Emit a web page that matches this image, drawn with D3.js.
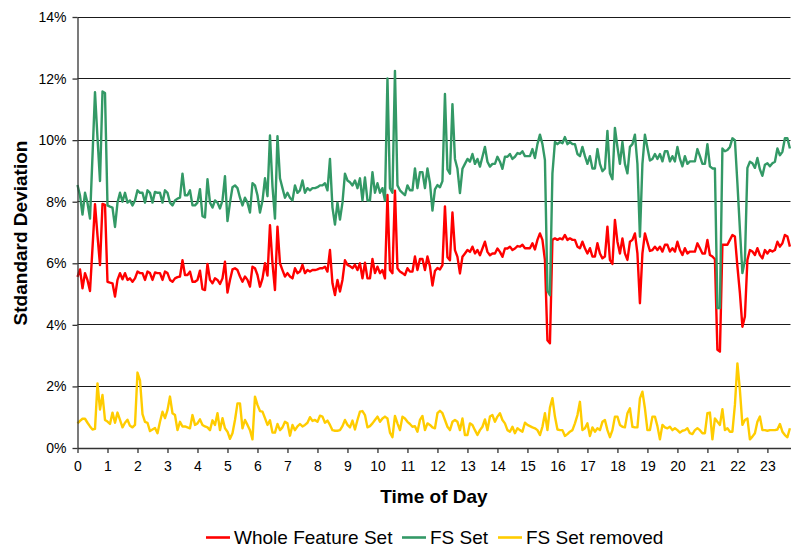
<!DOCTYPE html>
<html>
<head>
<meta charset="utf-8">
<script src="https://cdn.jsdelivr.net/npm/d3@7"></script>
<style>
  body { margin: 0; background: #fff; }
  svg { display: block; }
  text { font-family: "Liberation Sans", Arial, Helvetica, sans-serif; fill: #000; }
</style>
</head>
<body>
<svg id="chart" width="792" height="547"></svg>
<script>
// Samples are taken every 5 minutes, starting at 0:00.
const stepMinutes = 5;
const hourTicks = d3.range(0, 24);
const percentTicks = [0, 2, 4, 6, 8, 10, 12, 14];
const seriesNames = ["Whole Feature Set", "FS Set", "FS Set removed"];

// Standard deviation (%) per 5-minute slot, one row per hour.
const wholeFeatureSet = [
  5.56,5.80,5.19,5.68,5.45,5.10,6.50,7.92,6.90,5.94,7.93,7.90,
  5.40,5.37,5.35,4.92,5.46,5.68,5.48,5.68,5.46,5.51,5.40,5.51,
  5.73,5.68,5.68,5.46,5.73,5.68,5.46,5.70,5.68,5.68,5.46,5.73,
  5.68,5.46,5.40,5.51,5.55,5.57,6.10,5.62,5.62,5.73,5.40,5.40,
  5.46,5.76,5.16,5.13,5.98,5.46,5.35,5.51,5.46,5.33,5.51,6.05,
  5.05,5.46,5.80,5.84,5.78,5.57,5.40,5.57,5.46,5.24,5.89,5.84,
  5.62,5.24,5.50,6.00,5.60,7.24,6.00,5.13,7.19,6.00,5.78,5.57,
  5.68,5.57,5.51,5.84,5.68,5.73,5.95,5.68,5.78,5.73,5.78,5.78,
  5.80,5.84,5.84,5.89,5.73,6.43,5.35,4.97,5.46,5.08,5.46,6.10,
  5.95,5.91,5.84,5.95,5.78,6.00,5.51,6.02,5.51,5.51,6.14,5.68,
  5.89,5.68,5.78,5.51,8.22,5.78,5.68,8.36,5.84,5.73,5.68,5.62,
  5.84,5.73,5.73,6.22,5.78,6.14,6.14,5.78,6.22,5.90,5.28,5.75,
  5.85,5.80,5.94,7.85,6.20,6.10,7.65,6.43,6.21,5.67,6.21,6.32,
  6.43,6.37,6.54,6.32,6.43,6.26,6.48,6.70,6.37,6.26,6.32,6.32,
  6.48,6.37,6.21,6.48,6.48,6.54,6.43,6.48,6.56,6.54,6.60,6.49,
  6.49,6.49,6.65,6.45,6.76,6.97,6.76,6.10,3.50,3.40,6.76,6.81,
  6.76,6.81,6.78,6.92,6.76,6.81,6.76,6.76,6.54,6.49,6.70,6.49,
  6.32,6.49,6.22,6.22,6.65,6.32,6.16,6.22,7.19,6.11,5.98,7.41,
  6.70,6.32,6.81,6.32,6.11,6.70,6.76,6.97,6.32,4.70,6.32,6.97,
  6.68,6.40,6.43,6.54,6.43,6.54,6.38,6.60,6.60,6.38,6.49,6.38,
  6.70,6.43,6.27,6.49,6.32,6.38,6.38,6.38,6.65,6.49,6.32,6.32,
  6.76,6.27,6.22,6.13,3.19,3.13,6.60,6.60,6.60,6.76,6.92,6.87,
  5.90,5.03,3.94,4.27,6.11,6.43,6.38,6.27,6.49,6.27,6.16,6.43,
  6.32,6.43,6.38,6.43,6.70,6.54,6.65,6.92,6.87,6.54
];

const fsSet = [
  8.54,8.20,7.58,8.29,7.96,7.45,9.49,11.56,10.07,8.67,11.58,11.53,
  7.88,7.84,7.81,7.18,7.97,8.29,8.00,8.29,7.97,8.04,7.88,8.04,
  8.37,8.29,8.29,7.97,8.37,8.29,7.97,8.32,8.29,8.29,7.97,8.37,
  8.29,7.97,7.88,8.04,8.10,8.13,8.91,8.21,8.21,8.37,7.88,7.88,
  7.97,8.41,7.53,7.49,8.73,7.97,7.81,8.04,7.97,7.78,8.04,8.83,
  7.37,7.97,8.47,8.53,8.44,8.13,7.88,8.13,7.97,7.65,8.60,8.53,
  8.21,7.65,8.03,8.76,8.18,10.15,8.50,7.45,10.13,8.76,8.44,8.13,
  8.29,8.13,8.04,8.53,8.29,8.37,8.69,8.29,8.44,8.37,8.44,8.44,
  8.47,8.53,8.53,8.60,8.37,9.39,7.81,7.26,7.97,7.42,7.97,8.91,
  8.69,8.63,8.53,8.69,8.44,8.76,8.04,8.79,8.04,8.04,8.96,8.29,
  8.60,8.29,8.44,8.04,12.00,8.44,8.29,12.25,8.53,8.37,8.29,8.21,
  8.53,8.37,8.37,9.08,8.44,8.96,8.96,8.44,9.08,8.61,7.71,8.40,
  8.54,8.47,8.67,11.50,9.05,8.91,11.17,9.39,9.07,8.28,9.07,9.23,
  9.39,9.30,9.55,9.23,9.39,9.14,9.46,9.78,9.30,9.14,9.23,9.23,
  9.46,9.30,9.07,9.46,9.46,9.55,9.39,9.46,9.58,9.55,9.64,9.48,
  9.48,9.48,9.71,9.42,9.87,10.18,9.87,9.35,5.11,4.96,8.92,9.94,
  9.87,9.94,9.90,10.10,9.87,9.94,9.87,9.87,9.55,9.48,9.78,9.48,
  9.23,9.48,9.08,9.08,9.71,9.23,8.99,9.08,10.30,8.92,8.73,10.40,
  9.78,9.23,9.94,9.23,8.92,9.78,9.87,10.18,9.23,6.86,9.23,10.18,
  9.75,9.34,9.39,9.55,9.39,9.55,9.31,9.64,9.64,9.31,9.48,9.31,
  9.78,9.39,9.15,9.48,9.23,9.31,9.31,9.31,9.71,9.48,9.23,9.23,
  9.87,9.15,9.08,9.08,4.55,4.55,9.73,9.64,9.68,9.78,10.06,10.00,
  8.60,7.10,5.68,6.10,9.10,9.30,9.25,9.10,9.42,9.05,8.84,9.20,
  9.25,9.15,9.25,9.30,9.73,9.51,9.62,10.06,10.06,9.73
];

const fsSetRemoved = [
  0.80,0.88,0.95,0.95,0.82,0.70,0.60,0.62,2.10,1.25,1.72,0.91,
  0.86,0.78,1.15,0.82,1.15,0.91,0.67,0.82,0.92,0.72,0.67,0.75,
  2.45,2.20,1.10,0.85,0.82,0.55,0.60,0.65,0.48,0.85,1.18,0.97,
  1.23,1.67,1.13,1.07,0.58,0.85,0.70,0.70,0.67,0.64,1.07,0.75,
  0.80,0.93,0.75,0.70,0.67,0.58,0.90,0.75,1.13,0.58,0.97,0.64,
  0.53,0.30,0.48,0.91,1.45,1.45,0.64,0.91,0.75,0.58,0.28,1.67,
  1.40,1.20,1.18,0.97,0.75,0.90,0.50,0.50,0.78,0.58,0.67,0.85,
  0.80,0.40,0.75,0.58,0.70,0.78,0.70,0.75,0.82,1.00,0.88,0.91,
  0.85,1.05,1.02,0.82,0.89,0.75,0.58,0.56,0.56,0.58,0.71,0.91,
  0.75,0.67,0.89,0.60,0.91,1.18,1.20,1.07,0.67,0.71,0.80,0.91,
  1.02,0.85,0.96,1.02,0.96,0.50,0.35,1.04,0.80,0.58,1.02,0.96,
  0.85,0.78,0.69,0.71,0.53,0.91,1.04,0.58,0.80,0.75,0.67,0.64,
  1.13,1.21,1.13,0.91,0.69,0.58,0.85,0.91,0.85,0.58,0.96,0.42,
  0.42,0.80,0.75,0.58,0.42,0.58,0.69,0.93,0.58,1.02,1.07,0.85,
  1.02,1.13,0.91,0.80,0.58,0.53,0.69,0.48,0.64,0.58,0.53,0.82,
  0.75,0.71,0.67,0.64,0.58,0.42,0.69,1.13,0.58,1.31,1.62,1.02,
  0.60,0.58,0.58,0.39,0.45,0.53,0.58,0.80,1.07,1.50,0.58,0.64,
  0.80,0.39,0.67,0.53,0.64,0.58,0.85,0.91,0.58,0.35,0.58,1.02,
  1.02,0.75,0.69,0.67,1.13,1.29,0.69,0.67,0.67,1.61,1.83,1.29,
  0.58,0.58,1.02,1.02,0.71,0.28,0.75,0.67,0.64,0.69,0.58,0.64,
  0.58,0.50,0.56,0.58,0.64,0.48,0.45,0.58,0.64,0.58,0.48,0.48,
  1.13,1.15,0.28,0.96,0.85,0.75,1.26,0.58,0.64,0.53,0.53,1.40,
  2.75,1.88,0.75,0.91,0.96,0.28,0.37,0.48,0.85,1.02,0.58,0.58,
  0.56,0.58,0.58,0.58,0.60,0.78,0.53,0.42,0.35,0.64
];

const series = [
  { name: seriesNames[0], values: wholeFeatureSet, color: "#ff0000" },
  { name: seriesNames[1], values: fsSet,           color: "#339966" },
  { name: seriesNames[2], values: fsSetRemoved,    color: "#ffcc00" }
];

const svg = d3.select("#chart");
const plotLeft = 77.5, plotRight = 790.5, plotTop = 17, plotBottom = 448;

const x = d3.scaleLinear().domain([0, 23.77]).range([plotLeft, plotRight]);
const y = d3.scaleLinear().domain([0, 14]).range([plotBottom, plotTop]);
const crisp = v => Math.round(v - 0.5) + 0.5;

// horizontal gridlines
svg.append("g")
  .selectAll("line")
  .data(percentTicks.filter(d => d > 0))
  .join("line")
  .attr("x1", plotLeft).attr("x2", plotRight)
  .attr("y1", d => crisp(y(d))).attr("y2", d => crisp(y(d)))
  .attr("stroke", "#1a1a1a").attr("stroke-width", 1);

// series lines
const line = d3.line()
  .x((d, i) => x(i * stepMinutes / 60))
  .y(d => y(d));

svg.append("g")
  .selectAll("path")
  .data(series)
  .join("path")
  .attr("d", s => line(s.values))
  .attr("fill", "none")
  .attr("stroke", s => s.color)
  .attr("stroke-width", 2.4)
  .attr("stroke-linejoin", "round");

// y axis
const yAxis = svg.append("g")
  .attr("transform", `translate(${plotLeft},0)`)
  .call(d3.axisLeft(y).tickValues(percentTicks).tickFormat(d => d + "%")
        .tickSize(5).tickSizeOuter(0).tickPadding(6));
yAxis.selectAll("text").style("font-size", "14px");

// x axis
const xAxis = svg.append("g")
  .attr("transform", `translate(0,${plotBottom})`)
  .call(d3.axisBottom(x).tickValues(hourTicks).tickFormat(d3.format("d"))
        .tickSize(5).tickSizeOuter(0).tickPadding(8));
xAxis.selectAll("text").style("font-size", "14px");

[yAxis, xAxis].forEach(a => {
  a.select(".domain").attr("stroke", "#333").attr("stroke-width", 1.3);
  a.selectAll(".tick line").attr("stroke", "#333").attr("stroke-width", 1.3);
});

// axis titles
svg.append("text")
  .attr("transform", "translate(27,233) rotate(-90)")
  .attr("text-anchor", "middle")
  .style("font-size", "19px").style("font-weight", "bold")
  .text("Stdandard Deviation");

svg.append("text")
  .attr("x", 434).attr("y", 503)
  .attr("text-anchor", "middle")
  .style("font-size", "19px").style("font-weight", "bold")
  .text("Time of Day");

// legend
const legendY = 537.5;
const legendItems = [
  { s: series[0], x: 206 },
  { s: series[1], x: 402 },
  { s: series[2], x: 498 }
];
const lg = svg.append("g");
legendItems.forEach(item => {
  lg.append("line")
    .attr("x1", item.x).attr("x2", item.x + 24)
    .attr("y1", legendY).attr("y2", legendY)
    .attr("stroke", item.s.color).attr("stroke-width", 2.6);
  lg.append("text")
    .attr("x", item.x + 28).attr("y", legendY + 6.5)
    .style("font-size", "19px")
    .text(item.s.name);
});
</script>
</body>
</html>
